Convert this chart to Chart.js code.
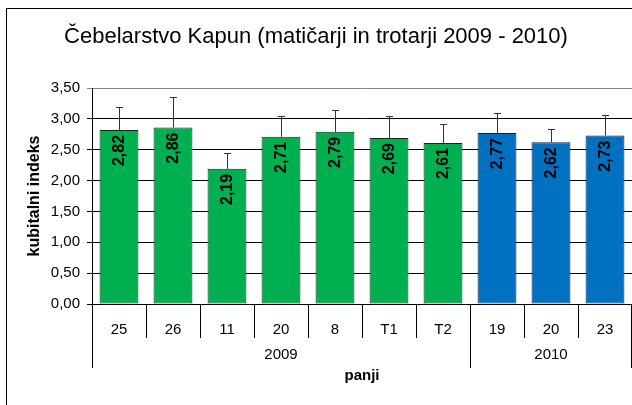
<!DOCTYPE html>
<html>
<head>
<meta charset="utf-8">
<script src="https://cdn.jsdelivr.net/npm/chart.js@4.4.1/dist/chart.umd.min.js"></script>
<style>
  html, body { margin: 0; padding: 0; background: #fff; }
  canvas { display: block; }
</style>
</head>
<body>
<canvas id="kapunChart" width="632" height="405"></canvas>
<script>
// --- data ---
const hives = ["25", "26", "11", "20", "8", "T1", "T2", "19", "20", "23"];
const hiveYears = ["2009", "2009", "2009", "2009", "2009", "2009", "2009", "2010", "2010", "2010"];
const indexValues = [2.82, 2.86, 2.19, 2.71, 2.79, 2.69, 2.61, 2.77, 2.62, 2.73];
const errorPlus = [0.38, 0.50, 0.26, 0.33, 0.36, 0.35, 0.31, 0.32, 0.21, 0.34];
const yTicks = [0, 0.5, 1, 1.5, 2, 2.5, 3, 3.5];

const yearFill = { "2009": "#00B050", "2010": "#0070C0" };
const yearEdge = { "2009": "#0b2e14", "2010": "#0a2240" };
const FONT = '"Liberation Sans", Arial, sans-serif';
const fmt = v => v.toFixed(2).replace(".", ",");

// white background + outer chart frame
const framePlugin = {
  id: "frame",
  beforeDraw(chart) {
    const c = chart.ctx;
    c.save();
    c.fillStyle = "#fff";
    c.fillRect(0, 0, chart.width, chart.height);
    c.strokeStyle = "#000";
    c.lineWidth = 1;
    c.strokeRect(6.5, 8.5, chart.width + 10, chart.height + 10);
    c.restore();
  }
};

// plus error bars and rotated value labels
const barExtras = {
  id: "barExtras",
  afterDatasetsDraw(chart) {
    const c = chart.ctx;
    const y = chart.scales.y;
    const meta = chart.getDatasetMeta(0);
    c.save();
    meta.data.forEach((bar, i) => {
      const x = Math.round(bar.x) + 0.5;
      const top = Math.round(y.getPixelForValue(indexValues[i] + errorPlus[i])) + 0.5;
      c.strokeStyle = "#333";
      c.lineWidth = 1;
      c.beginPath();
      c.moveTo(x, bar.y);
      c.lineTo(x, top);
      c.moveTo(x - 3.5, top);
      c.lineTo(x + 3.5, top);
      c.stroke();

      c.save();
      c.translate(bar.x, bar.y + 5);
      c.rotate(-Math.PI / 2);
      c.fillStyle = "#000";
      c.font = "bold 16px " + FONT;
      c.textAlign = "right";
      c.textBaseline = "middle";
      c.fillText(fmt(indexValues[i]), 0, 1);
      c.restore();
    });
    c.restore();
  }
};

// second category level: years
const yearGroups = {
  id: "yearGroups",
  afterDraw(chart) {
    const c = chart.ctx;
    const xs = chart.scales.x;
    const area = chart.chartArea;
    const n = hives.length;
    const edge = i => i === 0 ? area.left : i === n ? area.right
      : (xs.getPixelForValue(i - 1) + xs.getPixelForValue(i)) / 2;
    const bounds = [0];
    for (let i = 1; i < n; i++) if (hiveYears[i] !== hiveYears[i - 1]) bounds.push(i);
    bounds.push(n);
    c.save();
    c.strokeStyle = "#000";
    c.lineWidth = 1;
    bounds.forEach(b => {
      const px = Math.round(edge(b)) + (b === n ? -0.5 : 0.5);
      c.beginPath();
      c.moveTo(px, area.bottom);
      c.lineTo(px, area.bottom + 64);
      c.stroke();
    });
    c.fillStyle = "#000";
    c.font = "15px " + FONT;
    c.textAlign = "center";
    c.textBaseline = "middle";
    for (let k = 0; k < bounds.length - 1; k++) {
      const mid = (edge(bounds[k]) + edge(bounds[k + 1])) / 2;
      c.fillText(hiveYears[bounds[k]], mid, area.bottom + 51);
    }
    c.restore();
  }
};

new Chart(document.getElementById("kapunChart"), {
  type: "bar",
  data: {
    labels: hives,
    datasets: [{
      data: indexValues,
      backgroundColor: hiveYears.map(y => yearFill[y]),
      borderColor: hiveYears.map(y => yearEdge[y]),
      borderWidth: 1,
      borderSkipped: false,
      categoryPercentage: 1,
      barPercentage: 0.72
    }]
  },
  options: {
    responsive: false,
    animation: false,
    layout: { padding: 0 },
    plugins: {
      legend: { display: false },
      tooltip: { enabled: false },
      title: {
        display: true,
        text: "Čebelarstvo Kapun (matičarji in trotarji 2009 - 2010)",
        color: "#000",
        font: { family: FONT, size: 22, weight: "normal" },
        padding: { top: 24, bottom: 37.6 }
      }
    },
    scales: {
      x: {
        afterFit: s => { s.height = 101; },
        grid: { offset: true, drawOnChartArea: false, tickLength: 34, color: "#000" },
        border: { display: true, color: "#000" },
        ticks: { color: "#000", font: { family: FONT, size: 15 }, padding: -17 },
        title: {
          display: true,
          text: "panji",
          color: "#000",
          font: { family: FONT, size: 15, weight: "bold" },
          padding: { top: 0, bottom: 20 }
        }
      },
      y: {
        min: 0,
        max: 3.5,
        afterFit: s => { s.width = 92; },
        afterBuildTicks: s => { s.ticks = yTicks.map(v => ({ value: v })); },
        grid: {
          color: ctx => (ctx.tick && ctx.tick.value === 3.5) ? "#868686" : "#000",
          tickLength: 5
        },
        border: { display: true, color: "#000" },
        ticks: {
          color: "#000",
          font: { family: FONT, size: 15 },
          padding: 7,
          callback: v => fmt(v)
        },
        title: {
          display: true,
          text: "kubitalni indeks",
          color: "#000",
          font: { family: FONT, size: 16, weight: "bold" },
          padding: { top: 25, bottom: 0 }
        }
      }
    }
  },
  plugins: [framePlugin, barExtras, yearGroups]
});
</script>
</body>
</html>
